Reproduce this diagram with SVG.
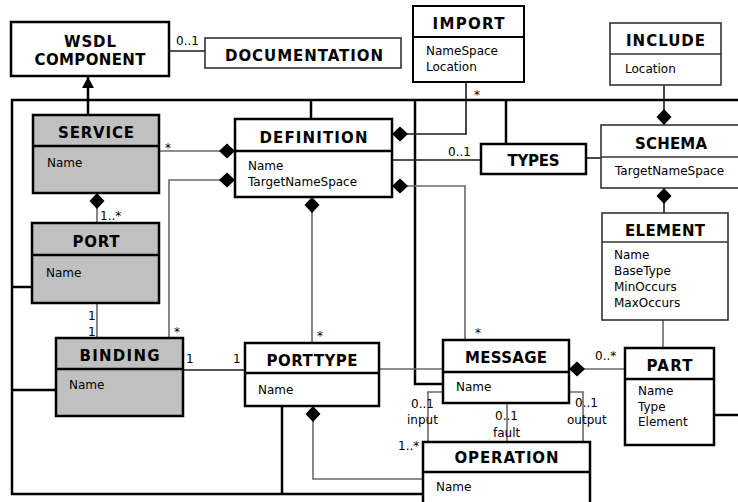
<svg xmlns="http://www.w3.org/2000/svg" width="738" height="502" viewBox="0 0 738 502">
<defs>
<style>
.bx{fill:#fff;stroke:#000;stroke-width:2.5}
.bxg{fill:#c0c0c0;stroke:#000;stroke-width:2.5}
.bxt{fill:#fff;stroke:#333;stroke-width:1.6}
.sep{stroke:#000;stroke-width:2.5}
.sept{stroke:#333;stroke-width:1.6}
.t{font-family:"DejaVu Sans","Liberation Sans",sans-serif;font-weight:bold;font-size:15px;text-anchor:middle;fill:#000}
.a{font-family:"DejaVu Sans","Liberation Sans",sans-serif;font-size:12px;fill:#000}
.l{font-family:"DejaVu Sans","Liberation Sans",sans-serif;font-size:12px;fill:#000}
.fr{fill:none;stroke:#000;stroke-width:2.5}
.as{fill:none;stroke:#6a6a6a;stroke-width:1.6}
.ak{fill:none;stroke:#1a1a1a;stroke-width:1.6}
</style>
<marker id="dm" markerUnits="userSpaceOnUse" markerWidth="17" markerHeight="16" viewBox="0 -8 17 16" refX="0" refY="0" orient="auto" overflow="visible"><path d="M0,0 L8,-7.5 L16,0 L8,7.5 Z" fill="#000"/></marker>
<marker id="tri" markerUnits="userSpaceOnUse" markerWidth="12" markerHeight="13" viewBox="0 -6.5 12 13" refX="11" refY="0" orient="auto" overflow="visible"><path d="M0,-6 L11,0 L0,6 Z" fill="#000"/></marker>
</defs>
<rect width="738" height="502" fill="#fff"/>

<g id="connectors">
<path class="fr" d="M740,100 L12,100 L12,494 L423,494"/>
<path class="fr" d="M88,115 L88,77" marker-end="url(#tri)"/>
<path class="fr" d="M311,100 L311,119"/>
<path class="fr" d="M506,100 L506,144"/>
<path class="fr" d="M415,100 L415,384 L443,384"/>
<path class="fr" d="M12,287 L32,287"/>
<path class="fr" d="M12,390 L56,390"/>
<path class="fr" d="M282,406 L282,494"/>
<path class="fr" d="M714,415 L740,415"/>

<path class="ak" d="M169,51 L205,51"/>
<path class="as" d="M235,151 L159,151" marker-start="url(#dm)"/>
<path class="as" d="M235,180 L169,180 L169,338" marker-start="url(#dm)"/>
<path class="ak" d="M392,134 L466,134 L466,82" marker-start="url(#dm)"/>
<path class="as" d="M392,186 L465,186 L465,340" marker-start="url(#dm)"/>
<path class="ak" d="M392,160 L481,160"/>
<path class="as" d="M312,197 L312,343" marker-start="url(#dm)"/>
<path class="as" d="M97,193 L97,223" marker-start="url(#dm)"/>
<path class="as" d="M97,303 L97,338"/>
<path class="ak" d="M183,370 L245,370"/>
<path class="as" d="M379,369 L443,369"/>
<path class="as" d="M313,406 L313,479 L423,479" marker-start="url(#dm)"/>
<path class="as" d="M569,369 L625,369" marker-start="url(#dm)"/>
<path class="as" d="M663,320 L663,348"/>
<path class="ak" d="M664,125 L664,85" marker-start="url(#dm)"/>
<path class="ak" d="M664,188 L664,213" marker-start="url(#dm)"/>
<path class="ak" d="M586,158 L601,158"/>
<path class="as" d="M443,392 L428,392 L428,442"/>
<path class="as" d="M507,403 L507,442"/>
<path class="as" d="M569,392 L583,392 L583,442"/>

<text class="l" x="176" y="45">0..1</text>
<text class="l" x="165" y="152">*</text>
<text class="l" x="100" y="220">1..*</text>
<text class="l" x="88" y="320">1</text>
<text class="l" x="88" y="336">1</text>
<text class="l" x="174" y="336">*</text>
<text class="l" x="186" y="363">1</text>
<text class="l" x="233" y="363">1</text>
<text class="l" x="317" y="340">*</text>
<text class="l" x="475" y="337">*</text>
<text class="l" x="595" y="360">0..*</text>
<text class="l" x="411" y="408">0..1</text>
<text class="l" x="407" y="424">input</text>
<text class="l" x="495" y="420">0..1</text>
<text class="l" x="493" y="437">fault</text>
<text class="l" x="575" y="407">0..1</text>
<text class="l" x="567" y="424">output</text>
<text class="l" x="398" y="450">1..*</text>
<text class="l" x="448" y="156">0..1</text>
<text class="l" x="474" y="99">*</text>
</g>

<g id="wsdl-component">
<rect class="bx" x="11" y="22" width="158" height="54"/>
<text class="t" x="90" y="47" textLength="52" lengthAdjust="spacing">WSDL</text>
<text class="t" x="90" y="65" textLength="111" lengthAdjust="spacing">COMPONENT</text>
</g>

<g id="documentation">
<rect class="bxt" x="205" y="38" width="196" height="30"/>
<text class="t" x="304" y="61" textLength="158" lengthAdjust="spacing">DOCUMENTATION</text>
</g>

<g id="import">
<rect class="bx" x="413" y="6" width="111" height="76" style="stroke-width:2"/>
<line class="sep" x1="413" y1="37" x2="524" y2="37" style="stroke-width:2"/>
<text class="t" x="468.5" y="29" textLength="72" lengthAdjust="spacing">IMPORT</text>
<text class="a" x="426" y="55">NameSpace</text>
<text class="a" x="426" y="71">Location</text>
</g>

<g id="include">
<rect class="bxt" x="610" y="23" width="111" height="62"/>
<line class="sept" x1="610" y1="54" x2="721" y2="54"/>
<text class="t" x="665.5" y="46" textLength="79" lengthAdjust="spacing">INCLUDE</text>
<text class="a" x="625" y="73">Location</text>
</g>

<g id="service">
<rect class="bxg" x="33" y="115" width="126" height="78"/>
<line class="sep" x1="33" y1="146" x2="159" y2="146"/>
<text class="t" x="96" y="138" textLength="76" lengthAdjust="spacing">SERVICE</text>
<text class="a" x="47" y="167">Name</text>
</g>

<g id="definition">
<rect class="bx" x="235" y="119" width="157" height="78"/>
<line class="sep" x1="235" y1="151" x2="392" y2="151"/>
<text class="t" x="313.5" y="143" textLength="108" lengthAdjust="spacing">DEFINITION</text>
<text class="a" x="248" y="170">Name</text>
<text class="a" x="248" y="186">TargetNameSpace</text>
</g>

<g id="types">
<rect class="bx" x="481" y="144" width="105" height="30"/>
<text class="t" x="533.5" y="166" textLength="52" lengthAdjust="spacing">TYPES</text>
</g>

<g id="schema">
<rect class="bxt" x="601" y="125" width="140" height="63"/>
<line class="sept" x1="601" y1="157" x2="741" y2="157"/>
<text class="t" x="671" y="149" textLength="72" lengthAdjust="spacing">SCHEMA</text>
<text class="a" x="615" y="175">TargetNameSpace</text>
</g>

<g id="element">
<rect class="bxt" x="602" y="213" width="126" height="107"/>
<line class="sept" x1="602" y1="242" x2="728" y2="242"/>
<text class="t" x="665" y="236" textLength="80" lengthAdjust="spacing">ELEMENT</text>
<text class="a" x="614" y="259">Name</text>
<text class="a" x="614" y="275">BaseType</text>
<text class="a" x="614" y="291">MinOccurs</text>
<text class="a" x="614" y="307">MaxOccurs</text>
</g>

<g id="port">
<rect class="bxg" x="32" y="223" width="127" height="80"/>
<line class="sep" x1="32" y1="255" x2="159" y2="255"/>
<text class="t" x="96" y="247" textLength="47" lengthAdjust="spacing">PORT</text>
<text class="a" x="46" y="277">Name</text>
</g>

<g id="binding">
<rect class="bxg" x="56" y="338" width="127" height="78"/>
<line class="sep" x1="56" y1="369" x2="183" y2="369"/>
<text class="t" x="119.5" y="361" textLength="80" lengthAdjust="spacing">BINDING</text>
<text class="a" x="69" y="389">Name</text>
</g>

<g id="porttype">
<rect class="bx" x="245" y="343" width="134" height="63"/>
<line class="sep" x1="245" y1="373" x2="379" y2="373"/>
<text class="t" x="312" y="366" textLength="91" lengthAdjust="spacing">PORTTYPE</text>
<text class="a" x="258" y="394">Name</text>
</g>

<g id="message">
<rect class="bx" x="443" y="340" width="126" height="63"/>
<line class="sep" x1="443" y1="372" x2="569" y2="372"/>
<text class="t" x="506" y="363" textLength="82" lengthAdjust="spacing">MESSAGE</text>
<text class="a" x="456" y="391">Name</text>
</g>

<g id="part">
<rect class="bx" x="625" y="348" width="89" height="97"/>
<line class="sep" x1="625" y1="379" x2="714" y2="379"/>
<text class="t" x="669.5" y="371" textLength="46" lengthAdjust="spacing">PART</text>
<text class="a" x="638" y="395">Name</text>
<text class="a" x="638" y="411">Type</text>
<text class="a" x="638" y="426">Element</text>
</g>

<g id="operation">
<rect class="bx" x="423" y="442" width="167" height="64"/>
<line class="sep" x1="423" y1="472" x2="590" y2="472"/>
<text class="t" x="506.5" y="463" textLength="104" lengthAdjust="spacing">OPERATION</text>
<text class="a" x="436" y="491">Name</text>
</g>
</svg>
